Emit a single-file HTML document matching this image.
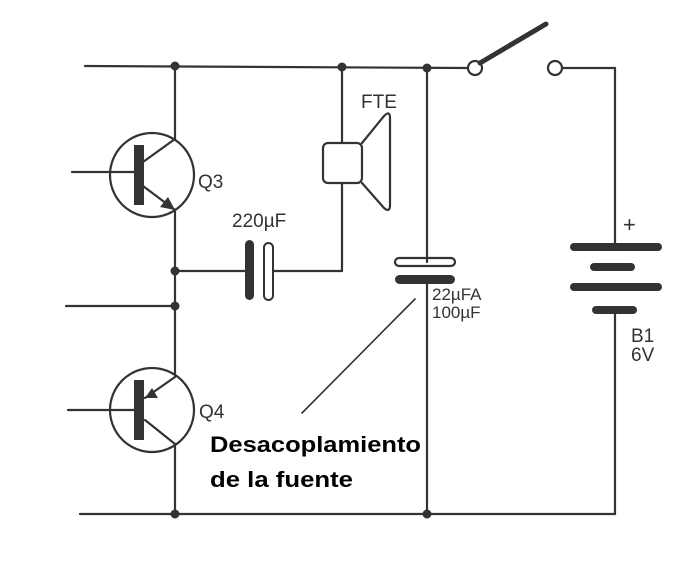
<!DOCTYPE html>
<html><head><meta charset="utf-8"><style>html,body{margin:0;padding:0;background:#fff}svg{display:block}</style></head>
<body>
<svg width="689" height="570" viewBox="0 0 689 570" xmlns="http://www.w3.org/2000/svg">
<g stroke="#333" stroke-width="2.2" fill="none" stroke-linecap="round">
<line x1="85" y1="66" x2="468" y2="68"/>
<line x1="80" y1="514" x2="615" y2="514"/>
<line x1="175" y1="66" x2="175" y2="139"/>
<line x1="175" y1="210" x2="175" y2="377"/>
<line x1="175" y1="444" x2="175" y2="514"/>
<circle cx="152" cy="175" r="42"/>
<line x1="72" y1="172" x2="139" y2="172"/>
<line x1="143" y1="162" x2="175" y2="139"/>
<line x1="143" y1="186" x2="175" y2="210"/>
<circle cx="152" cy="410" r="42"/>
<line x1="68" y1="410" x2="139" y2="410"/>
<line x1="145" y1="398" x2="175" y2="377"/>
<line x1="145" y1="420" x2="175" y2="444"/>
<line x1="66" y1="306" x2="175" y2="306"/>
<line x1="175" y1="271" x2="248" y2="271"/>
<line x1="270" y1="271" x2="342" y2="271"/>
<line x1="342" y1="67" x2="342" y2="143"/>
<line x1="342" y1="183" x2="342" y2="271"/>
<rect x="323" y="143" width="39" height="40" rx="5"/>
<path d="M362 143 L384 116 Q390 110 390 118 L390 205 Q390 213 384 208 L362 183"/>
<line x1="427" y1="68" x2="427" y2="262"/>
<line x1="427" y1="280" x2="427" y2="514"/>
<rect x="395" y="258" width="60" height="8" rx="4"/>
<circle cx="475" cy="68" r="7"/>
<circle cx="555" cy="68" r="7"/>
<line x1="562" y1="68" x2="615" y2="68"/>
<line x1="615" y1="68" x2="615" y2="247"/>
<line x1="615" y1="310" x2="615" y2="514"/>
<line x1="415" y1="299" x2="302" y2="413" stroke-width="1.6"/>
</g>
<g fill="#333">
<rect x="134" y="145" width="10" height="60"/>
<rect x="134" y="380" width="10" height="60"/>
<polygon points="175,210 160,207 168,197"/>
<polygon points="145,398 152,388 158,398"/>
<rect x="245" y="240" width="9" height="60" rx="4.5"/>
<rect x="395" y="275" width="60" height="9" rx="4.5"/>
<line x1="480" y1="63" x2="546" y2="24" stroke="#333" stroke-width="5" stroke-linecap="round"/>
<rect x="570" y="243" width="92" height="8" rx="4"/>
<rect x="590" y="263" width="45" height="8" rx="4"/>
<rect x="570" y="283" width="92" height="8" rx="4"/>
<rect x="592" y="306" width="45" height="8" rx="4"/>
<circle cx="175" cy="66" r="4.5"/><circle cx="342" cy="67" r="4.5"/><circle cx="427" cy="68" r="4.5"/>
<circle cx="175" cy="271" r="4.5"/><circle cx="175" cy="306" r="4.5"/>
<circle cx="175" cy="514" r="4.5"/><circle cx="427" cy="514" r="4.5"/>
</g>
<rect x="264" y="243" width="9" height="57" rx="4.5" fill="#fff" stroke="#333" stroke-width="2"/>
<g font-family="Liberation Sans, sans-serif" fill="#333" font-size="19">
<text x="198" y="188">Q3</text>
<text x="199" y="418">Q4</text>
<text x="232" y="227">220µF</text>
<text x="361" y="108">FTE</text>
<text x="432" y="300" font-size="17">22µFA</text>
<text x="432" y="318" font-size="17">100µF</text>
<text x="623" y="232" font-size="22">+</text>
<text x="631" y="342">B1</text>
<text x="631" y="361">6V</text>
</g>
<g font-family="Liberation Sans, sans-serif" font-weight="bold" font-size="22" fill="#000">
<text x="210" y="452" textLength="211" lengthAdjust="spacingAndGlyphs">Desacoplamiento</text>
<text x="210" y="487" textLength="143" lengthAdjust="spacingAndGlyphs">de la fuente</text>
</g>
</svg>
</body></html>
